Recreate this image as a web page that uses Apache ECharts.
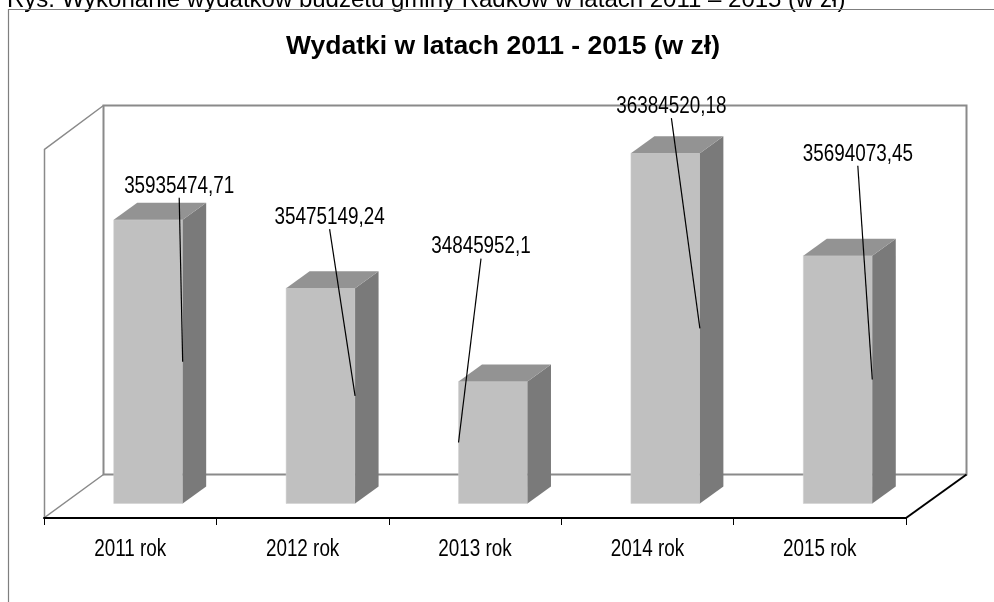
<!DOCTYPE html>
<html>
<head>
<meta charset="utf-8">
<script src="https://cdn.jsdelivr.net/npm/echarts@6/dist/echarts.min.js"></script>
<style>
html, body { margin: 0; padding: 0; background: #fff; }
#main { width: 994px; height: 602px; }
</style>
</head>
<body>
<div id="main"></div>
<script>
// dane
var lata = ['2011 rok', '2012 rok', '2013 rok', '2014 rok', '2015 rok'];
var wydatki = [35935474.71, 35475149.24, 34845952.1, 36384520.18, 35694073.45];
// etykiety przesuniete recznie (px od srodka gornej krawedzi slupka)
var labelShift = [[31, -35], [9, -72], [-12, -136], [6, -48], [20, -103]];
var osMin = 34025000, osMax = 36500000;

var font = "'Liberation Sans', Arial, sans-serif";
var narrowScale = 0.82;   // udaje Arial Narrow
var depthX = 23.5, depthY = -17;

var myChart = echarts.init(document.getElementById('main'));

function fmt(v) {
    return String(v).replace('.', ',');
}

function narrowText(txt, x, y) {
    return {
        type: 'text', x: x, y: y + 1.5, scaleX: narrowScale,
        style: { text: txt, x: 0, y: 0, align: 'center', verticalAlign: 'middle', fontSize: 23, fontFamily: font, fill: '#000' }
    };
}

var option = {
    animation: false,
    backgroundColor: '#fff',
    grid: [
        { left: 62, top: 136, width: 862, height: 367.5 },
        { left: 44, top: 100, width: 862, height: 418 }
    ],
    xAxis: [
        { type: 'category', gridIndex: 0, data: lata, show: false },
        {
            type: 'category', gridIndex: 1, data: lata,
            axisLine: { show: true, lineStyle: { color: '#000', width: 2 } },
            axisTick: { show: true, length: 7, lineStyle: { color: '#000', width: 1 } },
            axisLabel: { show: false },
            splitLine: { show: false }
        }
    ],
    yAxis: [
        { type: 'value', gridIndex: 0, min: osMin, max: osMax, show: false },
        { type: 'value', gridIndex: 1, min: 0, max: 1, show: false }
    ],
    graphic: [
        // podpis nad wykresem (uciety u gory)
        {
            type: 'text', x: 7, y: 12,
            style: { text: 'Rys. Wykonanie wydatków budżetu gminy Radków w latach 2011 – 2015 (w zł)', x: 0, y: 0, verticalAlign: 'bottom', fontSize: 24, fontFamily: font, fill: '#000' }
        },
        // ramka obszaru wykresu
        {
            type: 'rect', shape: { x: 8.5, y: 9.5, width: 1100, height: 700 },
            style: { fill: 'none', stroke: '#7f7f7f', lineWidth: 1.2 }
        },
        {
            type: 'text', x: 503, y: 47,
            style: { text: 'Wydatki w latach 2011 - 2015 (w zł)', x: 0, y: 0, align: 'center', verticalAlign: 'middle', fontSize: 26.5, fontWeight: 'bold', fontFamily: font, fill: '#000' }
        },
        // sciana tylna
        {
            type: 'rect', shape: { x: 103.5, y: 105.5, width: 863, height: 369 },
            style: { fill: 'none', stroke: '#8a8a8a', lineWidth: 2 }
        },
        // sciana boczna
        {
            type: 'polyline', shape: { points: [[103.5, 105.5], [44.5, 149.5], [44.5, 517.5], [103.5, 474.5]] },
            style: { fill: 'none', stroke: '#8a8a8a', lineWidth: 1.5 }
        },
        // podloga - prawa krawedz
        {
            type: 'line', shape: { x1: 906, y1: 518, x2: 966.5, y2: 474.5 },
            style: { stroke: '#000', lineWidth: 2 }
        }
    ],
    series: [
        {
            type: 'custom',
            xAxisIndex: 0,
            yAxisIndex: 0,
            clip: false,
            z: 5,
            data: wydatki.map(function (v, i) { return [i, v]; }),
            encode: { x: 0, y: 1 },
            renderItem: function (params, api) {
                var i = api.value(0);
                var v = api.value(1);
                var top = api.coord([i, v]);
                var base = api.coord([i, osMin]);
                var bw = api.size([1, 0])[0] * 0.4;
                var cx = top[0];
                var x0 = cx - bw / 2, x1 = cx + bw / 2;
                var yt = top[1], yb = base[1];
                var sh = labelShift[i];
                var tx = cx + sh[0], ty = yt + sh[1];
                var ax = tx >= cx ? x1 : x0;
                var ay = (yt + yb) / 2;
                return {
                    type: 'group',
                    children: [
                        {
                            type: 'rect',
                            shape: { x: x0, y: yt, width: bw, height: yb - yt },
                            style: { fill: '#c0c0c0', stroke: '#cfcfcf', lineWidth: 0.5 }
                        },
                        {
                            type: 'polygon',
                            shape: { points: [[x1, yt], [x1 + depthX, yt + depthY], [x1 + depthX, yb + depthY], [x1, yb]] },
                            style: { fill: '#7a7a7a' }
                        },
                        {
                            type: 'polygon',
                            shape: { points: [[x0, yt], [x0 + depthX, yt + depthY], [x1 + depthX, yt + depthY], [x1, yt]] },
                            style: { fill: '#939393' }
                        },
                        {
                            type: 'line',
                            shape: { x1: tx, y1: ty + 13, x2: ax, y2: ay },
                            style: { stroke: '#000', lineWidth: 1.2 }
                        },
                        narrowText(fmt(wydatki[i]), tx, ty)
                    ]
                };
            }
        },
        {
            // podpisy kategorii pod osia
            type: 'custom',
            xAxisIndex: 1,
            yAxisIndex: 1,
            clip: false,
            data: lata.map(function (n, i) { return [i, 0]; }),
            encode: { x: 0, y: 1 },
            renderItem: function (params, api) {
                var p = api.coord([api.value(0), 0]);
                return narrowText(lata[api.value(0)], p[0], p[1] + 30);
            }
        }
    ]
};

myChart.setOption(option);
window.onresize = myChart.resize;
</script>
</body>
</html>
